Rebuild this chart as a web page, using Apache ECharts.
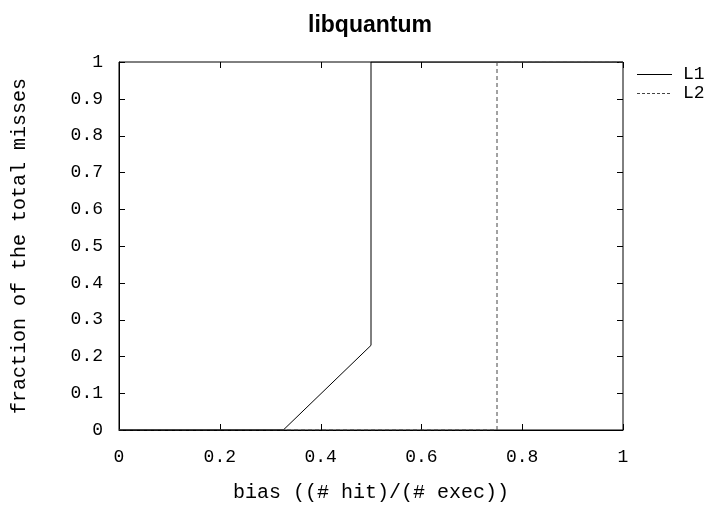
<!DOCTYPE html>
<html><head><meta charset="utf-8">
<script src="https://cdn.jsdelivr.net/npm/echarts@6/dist/echarts.min.js"></script>
<style>html,body{margin:0;padding:0;background:#fff}#c{width:720px;height:508px}</style>
</head><body><div id="c"></div>
<script>
const title = 'libquantum';
const xName = 'bias ((# hit)/(# exec))';
const yName = 'fraction of the total misses';
const seriesNames = ['L1', 'L2'];
const l1X = [0, 0.326, 0.5, 0.5, 1];
const l1Y = [0, 0, 0.23, 1, 1];
const l2X = [0, 0.75, 0.75, 1];
const l2Y = [0, 0, 1, 1];
const xTicks = [0, 0.2, 0.4, 0.6, 0.8, 1];
const yTicks = [0, 0.1, 0.2, 0.3, 0.4, 0.5, 0.6, 0.7, 0.8, 0.9, 1];

const mono = '"Courier New", "Liberation Mono", monospace';
const pair = (xs, ys) => xs.map((x, i) => [x, ys[i]]);
const fmt = v => String(Math.round(v * 10) / 10);
const TL = 6;
const tickStyle = {stroke: '#000', lineWidth: 1};

function xTickItem(params, api) {
  const v = api.value(0);
  const b = api.coord([v, 0]);
  const t = api.coord([v, 1]);
  const x = Math.round(b[0]) + 0.5;
  return {type: 'group', silent: true, children: [
    {type: 'line', shape: {x1: x, y1: b[1], x2: x, y2: b[1] - TL}, style: tickStyle},
    {type: 'line', shape: {x1: x, y1: t[1], x2: x, y2: t[1] + TL}, style: tickStyle}
  ]};
}
function yTickItem(params, api) {
  const v = api.value(1);
  const l = api.coord([0, v]);
  const r = api.coord([1, v]);
  const y = Math.round(l[1]) + 0.5;
  return {type: 'group', silent: true, children: [
    {type: 'line', shape: {x1: l[0], y1: y, x2: l[0] + TL, y2: y}, style: tickStyle},
    {type: 'line', shape: {x1: r[0], y1: y, x2: r[0] - TL, y2: y}, style: tickStyle}
  ]};
}

const chart = echarts.init(document.getElementById('c'), null, {renderer: 'canvas'});
chart.setOption({
  animation: false,
  backgroundColor: '#fff',
  title: {text: title, left: 365, top: 9, textAlign: 'center',
    textStyle: {fontFamily: '"Liberation Sans", Arial, sans-serif', fontWeight: 'bold', fontSize: 23, color: '#000'}},
  grid: {left: 119, right: 97, top: 62, bottom: 77, show: true, borderColor: '#000', borderWidth: 1},
  xAxis: {type: 'value', min: 0, max: 1, interval: 0.2, position: 'bottom',
     name: xName, nameLocation: 'middle', nameGap: 53,
     nameTextStyle: {fontFamily: mono, fontSize: 20, color: '#000'},
     axisLine: {show: true, lineStyle: {color: '#000', width: 1}}, axisTick: {show: false},
     axisLabel: {fontFamily: mono, fontSize: 18, color: '#000', margin: 18, formatter: fmt},
     splitLine: {show: false}},
  yAxis: {type: 'value', min: 0, max: 1, interval: 0.1, position: 'left',
     name: yName, nameLocation: 'middle', nameGap: 89, nameRotate: 90,
     nameTextStyle: {fontFamily: mono, fontSize: 20, color: '#000'},
     axisLine: {show: true, lineStyle: {color: '#000', width: 1}}, axisTick: {show: false},
     axisLabel: {fontFamily: mono, fontSize: 18, color: '#000', margin: 16, formatter: fmt},
     splitLine: {show: false}},
  graphic: [
    {type: 'line', shape: {x1: 637, y1: 74.5, x2: 672, y2: 74.5}, style: {stroke: '#000', lineWidth: 1}},
    {type: 'text', left: 683, top: 65, style: {text: seriesNames[0], font: '18px ' + mono, fill: '#000'}},
    {type: 'line', shape: {x1: 637, y1: 93.5, x2: 672, y2: 93.5}, style: {stroke: '#444', lineWidth: 1, lineDash: [3, 2]}},
    {type: 'text', left: 683, top: 84, style: {text: seriesNames[1], font: '18px ' + mono, fill: '#000'}}
  ],
  series: [
    {type: 'custom', renderItem: xTickItem, data: xTicks.map(v => [v, 0]), silent: true, z: 1},
    {type: 'custom', renderItem: yTickItem, data: yTicks.map(v => [0, v]), silent: true, z: 1},
    {name: seriesNames[0], type: 'line', data: pair(l1X, l1Y), showSymbol: false, symbol: 'none',
     lineStyle: {color: '#000', width: 1, type: 'solid'}, z: 3},
    {name: seriesNames[1], type: 'line', data: pair(l2X, l2Y), showSymbol: false, symbol: 'none',
     lineStyle: {color: '#444', width: 1, type: [4, 3]}, z: 3}
  ]
});
</script></body></html>
